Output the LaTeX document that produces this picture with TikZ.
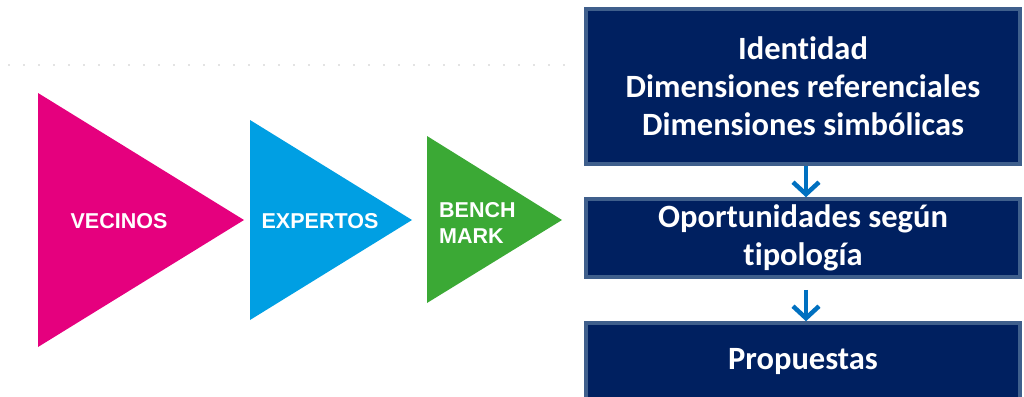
\documentclass[tikz,border=0pt]{standalone}
\usepackage{fontspec}
\setmainfont[Ligatures=NoCommon]{Carlito}
\newfontfamily\arialfont{Liberation Sans}
\usetikzlibrary{arrows.meta}

\definecolor{magentatri}{HTML}{E5007E}
\definecolor{cyantri}{HTML}{009FE3}
\definecolor{greentri}{HTML}{3BA935}
\definecolor{navyfill}{HTML}{002060}
\definecolor{navyedge}{HTML}{3F5F8C}
\definecolor{arrowblue}{HTML}{0070C0}

\tikzset{
  stagebox/.style={draw=navyedge, fill=navyfill, line width=3.5pt,
    minimum width=434pt, text=white, align=center, inner sep=0pt,
    font=\bfseries\fontsize{32.5}{38}\selectfont},
  trilabel/.style={text=white, inner sep=0pt,
    font=\arialfont\bfseries\fontsize{21.5}{26}\selectfont},
  flowarrow/.style={draw=arrowblue, line width=4pt,
    -{Straight Barb[length=12pt,width=26pt,line width=4.5pt]}},
}

\begin{document}
\begin{tikzpicture}[x=1pt,y=-1pt]
  \useasboundingbox (0,0) rectangle (1024,396);
  \clip (0,0) rectangle (1024,396);

  % faint broken rule across the top left
  \draw[gray!22, line width=1.5pt, dash pattern=on 2pt off 13pt] (8,65) -- (575,65);

  % three stage triangles
  \fill[magentatri] (38,93) -- (244,220) -- (38,347) -- cycle;
  \fill[cyantri] (250,120) -- (412,220) -- (250,320) -- cycle;
  \fill[greentri] (427,136) -- (562,220) -- (427,303) -- cycle;

  \node[trilabel] (vecinos) at (119,221) {VECINOS};
  \node[trilabel] (expertos) at (320,221) {EXPERTOS};
  \node[trilabel, anchor=west, align=left] (bench) at (439,223) {BENCH\\MARK};

  % result boxes
  \node[stagebox, minimum height=155pt] (ident) at (803,86.5)
    {Identidad\\Dimensiones referenciales\\Dimensiones simbólicas};
  \node[stagebox, minimum height=78pt] (oport) at (803,238)
    {Oportunidades según\\tipología};
  \node[stagebox, minimum height=78pt] (prop) at (803,362)
    {Propuestas};

  % downward flow between boxes
  \draw[flowarrow] ([xshift=3pt]ident.south) -- ([xshift=3pt]oport.north);
  \draw[flowarrow] ([xshift=3pt,yshift=-11pt]oport.south) -- ([xshift=3pt]prop.north);
\end{tikzpicture}
\end{document}
